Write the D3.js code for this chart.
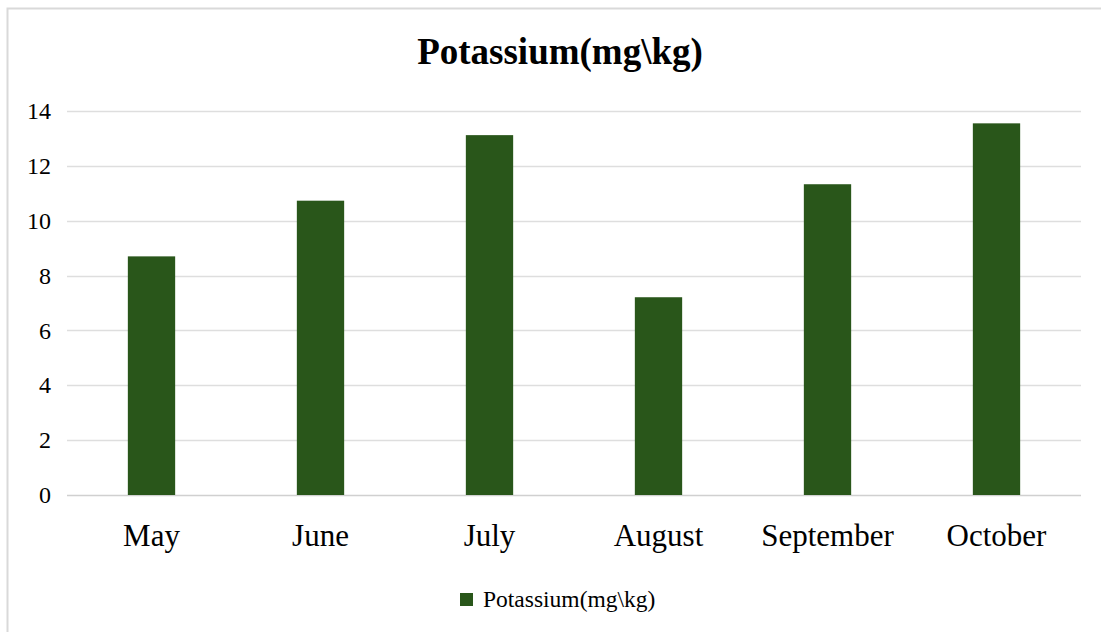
<!DOCTYPE html>
<html>
<head>
<meta charset="utf-8">
<script src="https://cdn.jsdelivr.net/npm/d3@7"></script>
<style>
  body { margin: 0; background: #fff; }
  svg text { font-family: "Liberation Serif", "Times New Roman", serif; fill: #000; }
</style>
</head>
<body>
<div id="chart"></div>
<script>
// --- Data ---
const months = ["May", "June", "July", "August", "September", "October"];
const potassium = [8.7, 10.73, 13.12, 7.21, 11.33, 13.55];
const yTicks = [0, 2, 4, 6, 8, 10, 12, 14];
const seriesName = "Potassium(mg\\kg)";

const W = 1101, H = 632;
const serif = "'Liberation Serif', 'Times New Roman', serif";
const margin = { top: 111, right: 20, bottom: 137, left: 67 };
const width = 1081 - margin.left;
const height = 495 - margin.top;
const barColor = "#29561a";

const svg = d3.select("#chart").append("svg")
    .attr("width", W)
    .attr("height", H);

// outer chart border (only top/left visible in frame)
svg.append("rect")
    .attr("x", 7.5).attr("y", 8.5)
    .attr("width", W + 20).attr("height", H + 20)
    .attr("fill", "none")
    .attr("stroke", "#d9d9d9")
    .attr("stroke-width", 2);

// title
svg.append("text")
    .attr("x", 560).attr("y", 64)
    .attr("text-anchor", "middle")
    .style("font-family", serif)
    .style("font-size", "37px")
    .style("font-weight", "bold")
    .text(seriesName);

const g = svg.append("g").attr("transform", `translate(${margin.left},${margin.top})`);

const x = d3.scaleBand().domain(months).range([0, width]).paddingInner(0.72).paddingOuter(0.36);
const y = d3.scaleLinear().domain([0, 14]).range([height, 0]);

// gridlines
g.append("g")
    .selectAll("line")
    .data(yTicks)
    .join("line")
    .attr("x1", 0).attr("x2", width)
    .attr("y1", d => Math.round(y(d)) + 0.5)
    .attr("y2", d => Math.round(y(d)) + 0.5)
    .attr("stroke", d => d === 0 ? "#d0d0d0" : "#dedede")
    .attr("stroke-width", 1.5);

// y axis labels
const yAxis = d3.axisLeft(y).tickValues(yTicks).tickSize(0).tickPadding(16);
g.append("g").call(yAxis)
    .attr("font-family", serif)
    .call(a => a.select(".domain").remove())
    .selectAll("text")
    .style("font-size", "24px")
    .style("font-family", serif);

// bars
g.append("g")
    .selectAll("rect")
    .data(months.map((m, i) => ({ m, v: potassium[i] })))
    .join("rect")
    .attr("x", d => x(d.m))
    .attr("y", d => y(d.v))
    .attr("width", x.bandwidth())
    .attr("height", d => y(0) - y(d.v))
    .attr("fill", barColor);

// x axis labels
const xAxis = d3.axisBottom(x).tickSize(0).tickPadding(29);
g.append("g")
    .attr("transform", `translate(0,${height})`)
    .call(xAxis)
    .attr("font-family", serif)
    .call(a => a.select(".domain").remove())
    .selectAll("text")
    .style("font-size", "31px")
    .style("font-family", serif);

// legend
const legend = svg.append("g").attr("transform", "translate(460,593)");
legend.append("rect")
    .attr("width", 13).attr("height", 13)
    .attr("fill", barColor);
legend.append("text")
    .attr("x", 23).attr("y", 14)
    .style("font-family", serif)
    .style("font-size", "23.5px")
    .text(seriesName);
</script>
</body>
</html>
